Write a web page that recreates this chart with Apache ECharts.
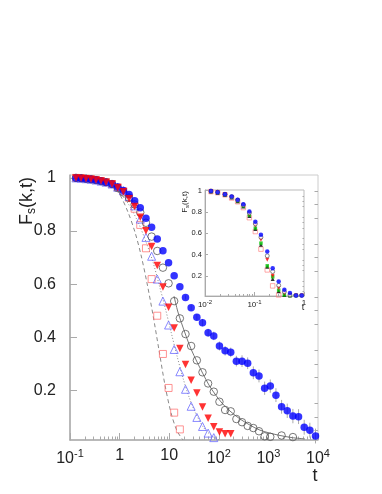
<!DOCTYPE html>
<html><head><meta charset="utf-8">
<script src="https://cdn.jsdelivr.net/npm/echarts@6/dist/echarts.min.js"></script>
<style>html,body{margin:0;padding:0;background:#fff}#c{width:382px;height:494px}</style>
</head><body><div id="c"></div>
<script>
// ---------- main panel data ----------
const tMain = [0.132,0.167,0.21,0.265,0.334,0.422,0.532,0.703,0.915,1.19,1.55,2.01,2.61,3.40,4.42,5.74,7.47,9.71,12.6,16.4,21.3,27.7,36.1,46.9,60.9,79.2,103,134,174,226,294,382,497,646,840,1092,1419,1845,2399,3118,4054,5270,6851,8906];
const fBlueFilled = [1.0,0.999,0.997,0.995,0.992,0.988,0.984,0.977,0.966,0.953,0.938,0.914,0.888,0.848,0.814,0.770,0.726,0.681,0.632,0.590,0.550,0.511,0.475,0.455,0.417,0.405,0.367,0.349,0.343,0.310,0.310,0.302,0.266,0.254,0.208,0.216,0.182,0.138,0.123,0.103,0.101,0.061,0.050,0.028];
const errBlueFilled = [0,0,0,0,0,0,0,0,0,0,0,0,0,0,0,0,0,0,0,0,0.008,0.010,0.012,0.014,0.015,0.016,0.017,0.018,0.018,0.020,0.022,0.022,0.024,0.024,0.025,0.025,0.026,0.026,0.027,0.027,0.028,0.028,0.028,0.028];
const fRedTri = [1.0,0.999,0.997,0.995,0.992,0.988,0.984,0.977,0.963,0.948,0.922,0.892,0.852,0.801,0.742,0.670,0.589,0.513,0.435,0.358,0.297,0.238,0.190,0.137,0.095,0.063,0.043,0.037,0.037];
const fOpenCircle = [1.0,0.999,0.997,0.995,0.992,0.988,0.984,0.977,0.962,0.945,0.925,0.900,0.870,0.831,0.779,0.725,0.662,0.603,0.536,0.471,0.412,0.367,0.313,0.268,0.226,0.195,0.157,0.126,0.121,0.092,0.080,0.066,0.058,0.046,0.027,0.025,null,0.030,null,0.024];
const fOpenTri = [1.0,0.999,0.997,0.995,0.992,0.988,0.984,0.977,0.965,0.952,0.930,0.895,0.845,0.776,0.705,0.619,0.536,0.446,0.354,0.270,0.204,0.140,0.098,0.064,0.039,0.022];
const fOpenSquare = [1.0,0.999,0.997,0.995,0.992,0.988,0.984,0.977,0.965,0.950,0.925,0.884,0.823,0.735,0.619,0.481,0.337,0.209,0.116,0.053];
// fit curves
const tFitSquare = [0.703,1.02,1.47,2.04,2.70,3.57,4.71,6.22,8.22,10.9,14.4,19.0];
const fFitSquare = [0.977,0.936,0.872,0.796,0.710,0.604,0.484,0.352,0.220,0.115,0.047,0.013];
const tFitTri = [0.929,1.47,2.35,3.41,4.71,6.22,8.22,10.9,14.4,19.0,25.1,34.7,50.3,73.0,106];
const fFitTri = [0.954,0.905,0.834,0.759,0.683,0.600,0.514,0.420,0.329,0.246,0.175,0.111,0.058,0.028,0.011];
const tFitCircle = [12.5,15.0,20.8,27.5,36.4,48.0,63.4,83.8,116,168,268,426,677,1077,1714,2991,5470];
const fFitCircle = [0.555,0.495,0.416,0.356,0.307,0.262,0.220,0.186,0.152,0.122,0.092,0.069,0.050,0.039,0.030,0.022,0.017];
const xTickValues = [0.1,1,10,100,1000,10000];
const xTickLabels = ['10^-1','1','10','10^2','10^3','10^4'];
const yTickValues = [0.2,0.4,0.6,0.8,1];
const yTickLabels = ['0.2','0.4','0.6','0.8','1'];

// ---------- inset data ----------
const tIn = [0.0132,0.018,0.0253,0.0346,0.0457,0.0595,0.0787,0.104,0.135,0.181,0.233,0.308,0.401,0.52,0.69,0.90];
const fInBlue = [0.995,0.985,0.966,0.944,0.913,0.872,0.803,0.706,0.584,0.427,0.271,0.146,0.068,0.037,0.015,0.015];
const fInOpen = [0.995,0.985,0.965,0.942,0.910,0.865,0.790,0.687,0.562,0.387,0.240,0.110,0.050,0.020,0.015,0.015];
const fInRed = [0.995,0.984,0.964,0.940,0.907,0.860,0.780,0.672,0.537,0.350,0.200,0.085,0.035,0.020,0.015,0.015];
const fInGreen = [0.993,0.982,0.962,0.937,0.903,0.855,0.770,0.647,0.506,0.293,0.190,0.065,0.020,0.015,0.015];
const fInBlack = [0.990,0.980,0.960,0.935,0.900,0.850,0.760,0.640,0.490,0.285,0.170,0.055,0.020,0.015];
const fInSquare = [0.990,0.980,0.960,0.930,0.895,0.840,0.745,0.615,0.450,0.255,0.105,0.020];
const xInTickValues = [0.01,0.1,1];
const xInTickLabels = ['10^-2','10^-1','1'];

function pairs(t, f){ const o=[]; for(let i=0;i<f.length;i++){ if(f[i]!=null) o.push([t[i],f[i]]); } return o; }
function minorLog(a,b){ const o=[]; for(let d=a; d<b; d++){ for(let k=2;k<=9;k++) o.push(+(k*Math.pow(10,d)).toPrecision(3)); } return o; }
function supLabel(table, vals){
  return function(v){
    let best=0, bd=1e9;
    for(let i=0;i<vals.length;i++){ const d=Math.abs(Math.log10(v)-Math.log10(vals[i])); if(d<bd){bd=d;best=i;} }
    const s = table[best];
    if(s.indexOf('^')>=0){ const p=s.split('^'); return '{b|'+p[0]+'}{s|'+p[1]+'}'; }
    return '{b|'+s+'}';
  };
}
const FONT = '"Liberation Sans", Arial, Helvetica, sans-serif';
const gray = '#aaaaaa';

const chart = echarts.init(document.getElementById('c'), null, {renderer:'canvas'});

const errData = [];
for(let i=0;i<tMain.length;i++){ if(errBlueFilled[i]>0) errData.push([tMain[i], fBlueFilled[i]-errBlueFilled[i], fBlueFilled[i]+errBlueFilled[i]]); }

const option = {
  backgroundColor:'#fff',
  animation:false,
  grid:[
    {left:70, top:175, width:248, height:265, show:true, borderColor:'#cccccc', borderWidth:1, backgroundColor:'transparent'},
    {left:205, top:190, width:99, height:106, show:true, borderColor:'#bbbbbb', borderWidth:1, backgroundColor:'transparent'}
  ],
  xAxis:[
    {gridIndex:0, type:'log', logBase:10, min:0.1, max:10000, position:'bottom',
     axisLine:{show:true, lineStyle:{color:gray, width:1.5}},
     axisTick:{show:true, inside:true, length:7, lineStyle:{color:gray}, customValues:xTickValues},
     axisLabel:{show:true, customValues:xTickValues, formatter:supLabel(xTickLabels,xTickValues), margin:8, color:'#222',
       rich:{b:{fontSize:16, fontFamily:FONT, color:'#222'}, s:{fontSize:11, fontFamily:FONT, color:'#222', padding:[0,0,11,0]}}},
     splitLine:{show:false}},
    {gridIndex:0, type:'log', logBase:10, min:0.1, max:10000, position:'bottom',
     axisLine:{show:false}, axisLabel:{show:false}, splitLine:{show:false},
     axisTick:{show:true, inside:true, length:3.5, lineStyle:{color:gray}, customValues:minorLog(-1,4)}},
    {gridIndex:1, type:'log', logBase:10, min:0.01, max:1, position:'bottom',
     axisLine:{show:true, lineStyle:{color:gray, width:1}},
     axisTick:{show:true, inside:true, length:4, lineStyle:{color:gray}, customValues:xInTickValues},
     axisLabel:{show:true, customValues:xInTickValues, formatter:supLabel(xInTickLabels,xInTickValues), margin:3, color:'#222',
       rich:{b:{fontSize:8, fontFamily:FONT, color:'#222'}, s:{fontSize:6, fontFamily:FONT, color:'#222', padding:[0,0,5,0]}}},
     splitLine:{show:false}},
    {gridIndex:1, type:'log', logBase:10, min:0.01, max:1, position:'bottom',
     axisLine:{show:false}, axisLabel:{show:false}, splitLine:{show:false},
     axisTick:{show:true, inside:true, length:2, lineStyle:{color:gray}, customValues:minorLog(-2,0)}}
  ],
  yAxis:[
    {gridIndex:0, type:'value', min:0.013, max:1.011,
     axisLine:{show:true, lineStyle:{color:gray, width:1.5}},
     axisTick:{show:true, inside:true, length:7, lineStyle:{color:gray}, customValues:yTickValues},
     axisLabel:{show:true, customValues:yTickValues, formatter:function(v){return yTickLabels[Math.round(v*5)-1];}, fontSize:16, fontFamily:FONT, color:'#222', margin:14},
     splitLine:{show:false}},
    {gridIndex:0, type:'value', min:0.013, max:1.011,
     axisLine:{show:false}, axisLabel:{show:false}, splitLine:{show:false},
     axisTick:{show:true, inside:true, length:3.5, lineStyle:{color:gray}, customValues:[0.05,0.1,0.15,0.25,0.3,0.35,0.45,0.5,0.55,0.65,0.7,0.75,0.85,0.9,0.95]}},
    {gridIndex:1, type:'value', min:0.01, max:1.005,
     axisLine:{show:true, lineStyle:{color:gray, width:1}},
     axisTick:{show:true, inside:true, length:3, lineStyle:{color:gray}, customValues:yTickValues},
     axisLabel:{show:true, customValues:yTickValues, formatter:function(v){return yTickLabels[Math.round(v*5)-1];}, fontSize:7.5, fontFamily:FONT, color:'#222', margin:3},
     splitLine:{show:false}},
    {gridIndex:1, type:'value', min:0.01, max:1.005,
     axisLine:{show:false}, axisLabel:{show:false}, splitLine:{show:false},
     axisTick:{show:true, inside:true, length:1.5, lineStyle:{color:gray}, customValues:[0.05,0.1,0.15,0.25,0.3,0.35,0.45,0.5,0.55,0.65,0.7,0.75,0.85,0.9,0.95]}}
  ],
  graphic:[
    {type:'text', x:27, y:201, rotation:Math.PI/2, z:10,
     style:{text:'{a|F}{b|s}{a|(k,t)}', align:'center', verticalAlign:'middle',
       rich:{a:{fontSize:18, fontFamily:FONT, fill:'#222'}, b:{fontSize:12, fontFamily:FONT, fill:'#222', padding:[9,0,0,0]}}}},
    {type:'text', x:315, y:476, z:10, style:{text:'t', fontSize:18, fontFamily:FONT, fill:'#222', align:'center', verticalAlign:'middle'}},
    {type:'text', x:185, y:202, rotation:Math.PI/2, z:10,
     style:{text:'{a|F}{b|s}{a|(k,t)}', align:'center', verticalAlign:'middle',
       rich:{a:{fontSize:8, fontFamily:FONT, fill:'#222'}, b:{fontSize:6, fontFamily:FONT, fill:'#222', padding:[4,0,0,0]}}}},
    {type:'text', x:303, y:308, z:10, style:{text:'t', fontSize:9, fontFamily:FONT, fill:'#222', align:'center', verticalAlign:'middle'}}
  ],
  series:[
    {type:'line', xAxisIndex:0, yAxisIndex:0, data:pairs(tFitSquare,fFitSquare), smooth:0.3, symbol:'none', lineStyle:{color:'#888', width:1, type:[4,3]}, z:1},
    {type:'line', xAxisIndex:0, yAxisIndex:0, data:pairs(tFitTri,fFitTri), smooth:0.3, symbol:'none', lineStyle:{color:'#888', width:1, type:[1,2]}, z:1},
    {type:'line', xAxisIndex:0, yAxisIndex:0, data:pairs(tFitCircle,fFitCircle), smooth:0.3, symbol:'none', lineStyle:{color:'#777', width:1}, z:1},
    {type:'custom', xAxisIndex:0, yAxisIndex:0, data:errData, z:2,
     renderItem:function(params, api){
       const a = api.coord([api.value(0), api.value(1)]);
       const b = api.coord([api.value(0), api.value(2)]);
       return {type:'line', shape:{x1:a[0], y1:a[1], x2:b[0], y2:b[1]}, style:{stroke:'#aaaaaa', lineWidth:1}};
     }},
    {type:'scatter', xAxisIndex:0, yAxisIndex:0, data:pairs(tMain,fOpenSquare), symbol:'rect', symbolSize:7, itemStyle:{color:'transparent', borderColor:'#ff7878', borderWidth:1}, z:3},
    {type:'scatter', xAxisIndex:0, yAxisIndex:0, data:pairs(tMain,fOpenTri), symbol:'triangle', symbolSize:8, itemStyle:{color:'transparent', borderColor:'#6c6cff', borderWidth:1}, z:3},
    {type:'scatter', xAxisIndex:0, yAxisIndex:0, data:pairs(tMain,fOpenCircle), symbol:'circle', symbolSize:7.5, itemStyle:{color:'transparent', borderColor:'#555', borderWidth:1}, z:3},
    {type:'scatter', xAxisIndex:0, yAxisIndex:0, data:pairs(tMain,fBlueFilled), symbol:'circle', symbolSize:7.5, itemStyle:{color:'#0000ff'}, z:4},
    {type:'scatter', xAxisIndex:0, yAxisIndex:0, data:pairs(tMain,fRedTri), symbol:'triangle', symbolRotate:180, symbolSize:7.5, itemStyle:{color:'#ff0000'}, z:5},
    // inset
    {type:'scatter', xAxisIndex:2, yAxisIndex:2, data:pairs(tIn,fInSquare), symbol:'rect', symbolSize:4.5, itemStyle:{color:'transparent', borderColor:'#ff7878', borderWidth:0.8}, z:3},
    {type:'scatter', xAxisIndex:2, yAxisIndex:2, data:pairs(tIn,fInBlack), symbol:'triangle', symbolSize:4, itemStyle:{color:'#000'}, z:4},
    {type:'scatter', xAxisIndex:2, yAxisIndex:2, data:pairs(tIn,fInGreen), symbol:'rect', symbolSize:3.5, itemStyle:{color:'#00c000'}, z:4},
    {type:'scatter', xAxisIndex:2, yAxisIndex:2, data:pairs(tIn,fInRed), symbol:'triangle', symbolRotate:180, symbolSize:4, itemStyle:{color:'#ff0000'}, z:4},
    {type:'scatter', xAxisIndex:2, yAxisIndex:2, data:pairs(tIn,fInOpen), symbol:'circle', symbolSize:4, itemStyle:{color:'#fff', borderColor:'#333', borderWidth:0.7}, z:4},
    {type:'scatter', xAxisIndex:2, yAxisIndex:2, data:pairs(tIn,fInBlue), symbol:'circle', symbolSize:4.5, itemStyle:{color:'#0000ff'}, z:5}
  ]
};
chart.setOption(option);
</script></body></html>
